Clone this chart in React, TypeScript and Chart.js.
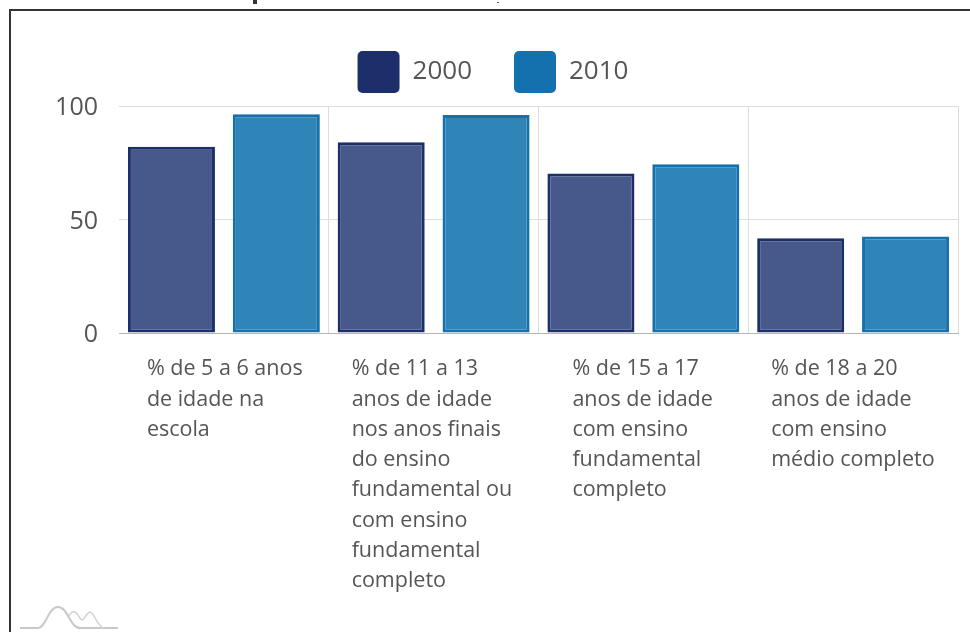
import React, { useEffect, useRef } from "react";
import { Chart, registerables } from "chart.js";

Chart.register(...registerables);

const categories: string[][] = [
  ["% de 5 a 6 anos", "de idade na", "escola"],
  ["% de 11 a 13", "anos de idade", "nos anos finais", "do ensino", "fundamental ou", "com ensino", "fundamental", "completo"],
  ["% de 15 a 17", "anos de idade", "com ensino", "fundamental", "completo"],
  ["% de 18 a 20", "anos de idade", "com ensino", "médio completo"],
];
const series2000 = [82, 84, 70.3, 41.7];
const series2010 = [96.4, 96, 74.3, 42.5];
const yTicks = [0, 50, 100];
const labelShifts = [0, -5, 6, -5];

const TEXT = "#555555";
const FONT = "'Open Sans', sans-serif";

export default function App() {
  const ref = useRef<HTMLCanvasElement | null>(null);
  useEffect(() => {
    document.body.style.margin = "0";
    const layoutPlugin = {
      id: "layoutTweaks",
      beforeLayout(chart: any) {
        const legend = chart.legend;
        if (legend && !legend.__wrapped) {
          const fit = legend.fit;
          legend.fit = function () {
            fit.call(this);
            this.height = 97;
          };
          legend.__wrapped = true;
        }
      },
      beforeDraw(chart: any) {
        const scale = chart.scales.x;
        if (scale.__shifted === scale._labelItems && scale._labelItems) return;
        const items = scale.getLabelItems(chart.chartArea);
        items.forEach((item: any, i: number) => {
          item.options.translation = [item.options.translation[0] + labelShifts[i], item.options.translation[1]];
        });
        scale.__shifted = items;
      },
    };
    const chart = new Chart(ref.current as HTMLCanvasElement, {
      type: "bar",
      data: {
        labels: categories as any,
        datasets: [
          {
            label: "2000",
            data: series2000,
            backgroundColor: "#46598a",
            borderColor: "#1c2f6b",
            borderWidth: 3,
            borderSkipped: false,
            barPercentage: 0.83,
            categoryPercentage: 1,
          },
          {
            label: "2010",
            data: series2010,
            backgroundColor: "#2f84b8",
            borderColor: "#1570ae",
            borderWidth: 3,
            borderSkipped: false,
            barPercentage: 0.83,
            categoryPercentage: 1,
          },
        ],
      },
      options: {
        responsive: false,
        animation: false,
        devicePixelRatio: 1,
        layout: { autoPadding: false, padding: { top: 9, left: 28, right: 12, bottom: 0 } },
        plugins: {
          title: { display: false },
          tooltip: { enabled: false },
          legend: {
            display: true,
            position: "top",
            labels: {
              boxWidth: 42,
              boxHeight: 42,
              padding: 42,
              color: TEXT,
              font: { family: FONT, size: 26 },
              useBorderRadius: true,
              borderRadius: 5,
              generateLabels: (c: Chart) =>
                c.data.datasets.map((d: any, i: number) => ({
                  text: d.label,
                  fillStyle: d.borderColor,
                  strokeStyle: d.borderColor,
                  lineWidth: 0,
                  datasetIndex: i,
                  fontColor: TEXT,
                  borderRadius: 5,
                })),
            },
          },
        },
        scales: {
          x: {
            afterFit: (s: any) => {
              s.height = 299;
              s.paddingLeft = 0;
              s.paddingRight = 0;
            },
            border: { display: true, color: "#b5b5b5", width: 1 },
            grid: {
              drawTicks: false,
              color: (ctx: any) => (ctx.index === 0 ? "rgba(0,0,0,0)" : "#dddddd"),
            },
            ticks: {
              autoSkip: false,
              maxRotation: 0,
              minRotation: 0,
              align: "start",
              labelOffset: -77,
              padding: 21,
              color: TEXT,
              font: { family: FONT, size: 21.5, lineHeight: "30.3px" },
            },
          },
          y: {
            min: 0,
            max: 100,
            afterFit: (s: any) => {
              s.width = 91;
            },
            afterBuildTicks: (s: any) => {
              s.ticks = yTicks.map((value) => ({ value }));
            },
            border: { display: false },
            grid: { drawTicks: false, color: "#dddddd" },
            ticks: {
              padding: 21,
              labelOffset: 2,
              color: TEXT,
              font: { family: FONT, size: 25 },
            },
          },
        },
      },
      plugins: [layoutPlugin],
    } as any);
    return () => chart.destroy();
  }, []);

  return (
    <div style={{ position: "absolute", left: 0, top: 0, width: 970, height: 632, background: "#fff", overflow: "hidden" }}>
      <canvas ref={ref} width={970} height={632} style={{ position: "absolute", left: 0, top: 0, display: "block" }} />
      <div
        style={{
          position: "absolute",
          left: 9,
          top: 9,
          right: 0,
          bottom: 0,
          borderTop: "2px solid #333",
          borderLeft: "2px solid #333",
          pointerEvents: "none",
        }}
      />
      <svg width={970} height={632} style={{ position: "absolute", left: 0, top: 0, pointerEvents: "none" }}>
        <path d="M253 0h4v4h-4z" fill="#333" />
        <path d="M497 2h2v1h-2z" fill="#555" />
        <path
          d="M20 628H38C46 628 48 607 58 607C68 607 70 628 80 628H118"
          fill="none"
          stroke="#c8c8c8"
          strokeWidth={2}
        />
        <path
          d="M68 618C70 612 73 611 75 612C78 613 80 620 82 620C84 620 87 612 90 612C94 612 98 628 104 628"
          fill="none"
          stroke="#d2d2d2"
          strokeWidth={1.5}
        />
      </svg>
    </div>
  );
}
